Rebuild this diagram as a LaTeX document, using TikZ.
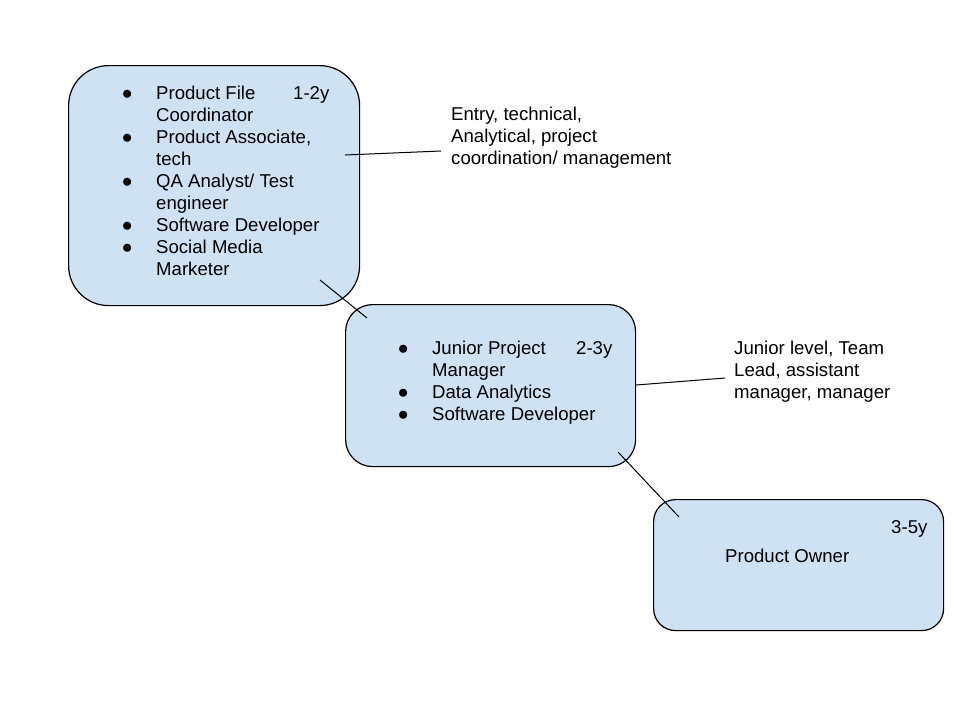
\documentclass[tikz,border=0pt]{standalone}
\usepackage{fontspec}
\setmainfont{Liberation Sans}
\usetikzlibrary{calc}
\definecolor{boxblue}{HTML}{CFE2F3}
\begin{document}
\begin{tikzpicture}[x=1pt,y=-1pt,
  box/.style={draw=black, line width=1.2pt, fill=boxblue, inner sep=0pt, anchor=north west},
  link/.style={draw=black, line width=1pt},
  txt/.style={inner sep=0pt, anchor=base west, font=\fontsize{18.6}{22}\selectfont}]
\fill[white] (0,0) rectangle (960,720);
\useasboundingbox (0,0) rectangle (960,720);
% boxes
\node[box, minimum width=291pt, minimum height=240pt, rounded corners=40pt] (b1) at (68,65) {};
\node[box, minimum width=290pt, minimum height=162pt, rounded corners=27pt] (b2) at (345,304) {};
\node[box, minimum width=290pt, minimum height=131pt, rounded corners=22pt] (b3) at (653,499) {};
% box 1 text
\node[txt] (l1) at (121.5,99) {\begin{tabular}[t]{@{}p{34.5pt}@{}l@{}}
● & Product File\\
  & Coordinator\\
● & Product Associate,\\
  & tech\\
● & QA Analyst/ Test\\
  & engineer\\
● & Software Developer\\
● & Social Media\\
  & Marketer
\end{tabular}};
\node[txt] (y1) at (293,99) {1-2y};
\node[txt] (n1) at (451,120) {\begin{tabular}[t]{@{}l@{}}
Entry, technical,\\
Analytical, project\\
coordination/ management
\end{tabular}};
% box 2 text
\node[txt] (l2) at (397.5,354) {\begin{tabular}[t]{@{}p{34.5pt}@{}l@{}}
● & Junior Project\\
  & Manager\\
● & Data Analytics\\
● & Software Developer
\end{tabular}};
\node[txt] (y2) at (576,354) {2-3y};
\node[txt] (n2) at (734,354) {\begin{tabular}[t]{@{}l@{}}
Junior level, Team\\
Lead, assistant\\
manager, manager
\end{tabular}};
% box 3 text
\node[txt] (y3) at (891,533) {3-5y};
\node[txt] (l3) at (725,562) {Product Owner};
% connectors
\coordinate (p1) at (345,155);
\coordinate (q1) at (441,151);
\coordinate (p2) at (320,280);
\coordinate (q2) at (367,318);
\coordinate (p3) at (636,385);
\coordinate (q3) at (725,378);
\coordinate (p4) at (618,452);
\coordinate (q4) at (679,517);
\draw[link] (p1) -- (q1);
\draw[link] (p2) -- (q2);
\draw[link] (p3) -- (q3);
\draw[link] (p4) -- (q4);
\end{tikzpicture}
\end{document}
